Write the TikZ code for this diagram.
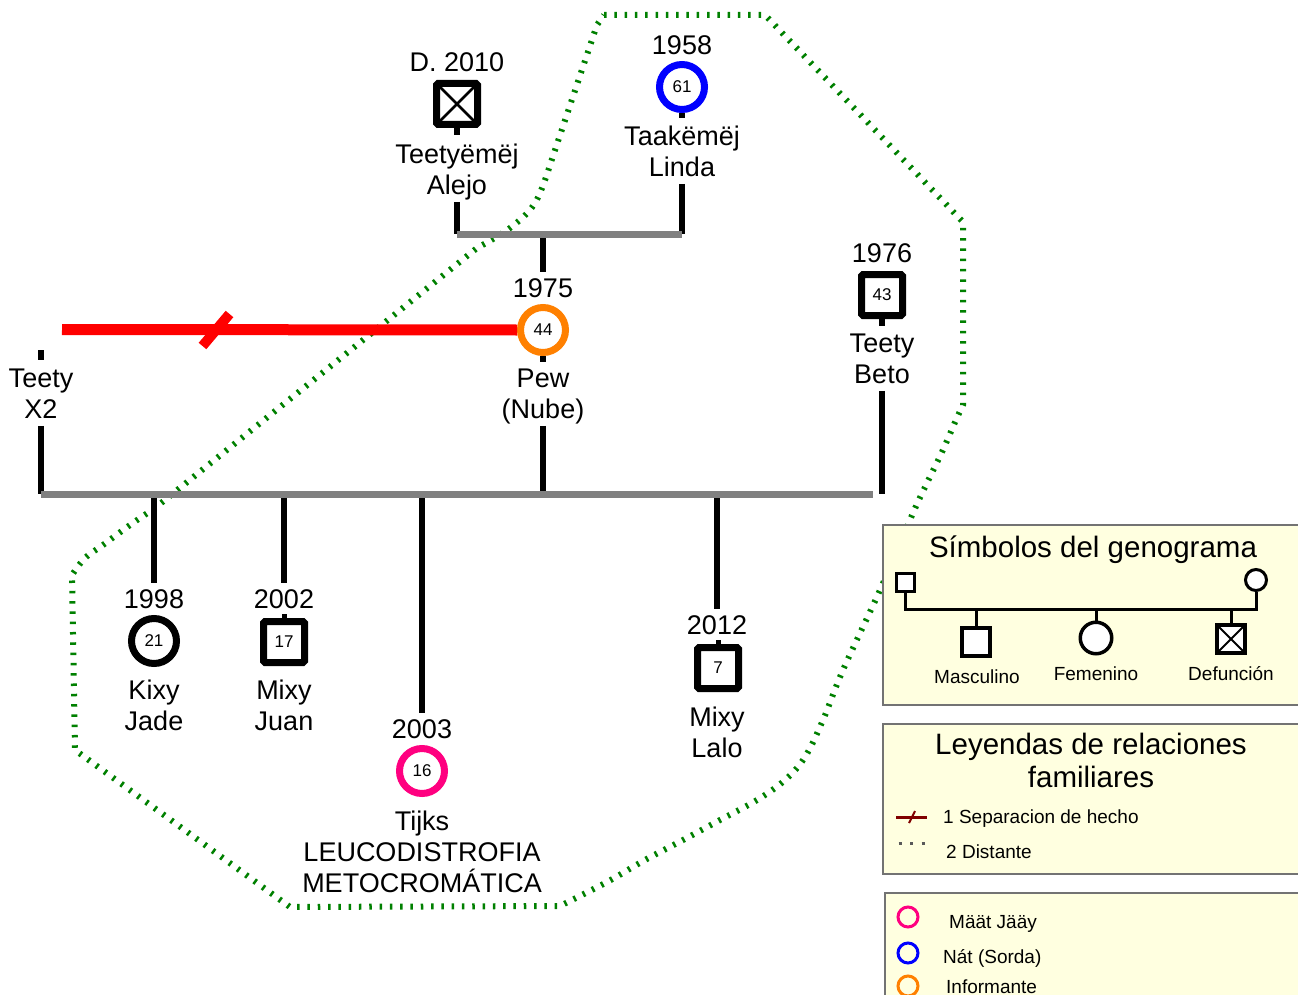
\documentclass[tikz,border=0pt]{standalone}
\usepackage{fontspec}
\setmainfont{Liberation Sans}
\usetikzlibrary{calc}

\definecolor{sepred}{RGB}{255,0,0}
\definecolor{uniongray}{RGB}{128,128,128}
\definecolor{hoodgreen}{RGB}{0,128,0}
\definecolor{deafblue}{RGB}{0,0,255}
\definecolor{infoorange}{RGB}{255,128,0}
\definecolor{illpink}{RGB}{255,0,128}
\definecolor{legfill}{RGB}{255,255,224}
\definecolor{legdark}{RGB}{128,0,0}

% struts that keep every label line the same height and depth
\newcommand{\lst}{\rule[-7pt]{0pt}{22pt}}
\newcommand{\tst}{\rule[-7pt]{0pt}{24pt}}

\begin{document}
\begin{tikzpicture}[x=1pt,y=-1pt,
  male/.style={draw, rectangle, line width=7pt, minimum size=41pt, rounded corners=1.5pt,
    inner sep=0pt, fill=white, font=\fontsize{17}{20}\selectfont},
  female/.style={draw, circle, line width=7pt, minimum size=45pt,
    inner sep=0pt, fill=white, font=\fontsize{17}{20}\selectfont},
  yearlbl/.style={anchor=base, inner sep=6pt, font=\fontsize{27}{31}\selectfont},
  pname/.style={anchor=north, align=center, inner sep=0pt, font=\fontsize{27}{31}\selectfont},
  kin/.style={line width=6.5pt, black},
  union/.style={line width=7pt, uniongray},
  distant/.style={hoodgreen, line width=6pt, dash pattern=on 2.5pt off 7.8pt},
  legbox/.style={draw=black!55, fill=legfill, line width=1.5pt, inner sep=0pt, anchor=north west},
  legtitle/.style={align=center, inner sep=0pt, font=\fontsize{29.5}{33}\selectfont},
  legtext/.style={inner sep=0pt, font=\fontsize{19}{22}\selectfont},
  legline/.style={line width=3pt, black},
  lmale/.style={draw, rectangle, line width=4pt, minimum size=28pt, inner sep=0pt, fill=white},
  lfem/.style={draw, circle, line width=3.5pt, minimum size=31.5pt, inner sep=0pt, fill=white},
  lmalesmall/.style={draw, rectangle, line width=3pt, minimum size=18pt, inner sep=0pt, fill=white},
  lfemsmall/.style={draw, circle, line width=3pt, minimum size=21pt, inner sep=0pt, fill=white},
  lring/.style={draw, circle, line width=3pt, minimum size=20pt, inner sep=0pt}]

\useasboundingbox (0,0) rectangle (1298,995);
\clip (0,0) rectangle (1298,995);

% household boundary
\draw[distant] (604,15) -- (765,15) -- (963,222) -- (963,405)
  -- plot[smooth, tension=0.6] coordinates {(963,405) (956,420) (942,452) (927,483) (913,513)
     (880,590) (843,670) (823,720) (805,757) (785,780) (757,800) (720,820) (683,840)
     (645,860) (607,882) (560,906)}
  -- (290,907) -- (75,750) -- (72,575)
  -- plot[smooth, tension=0.6] coordinates {(72,575) (85,558) (103,545) (130,525) (155,508)}
  -- (477,248)
  -- plot[smooth, tension=0.6] coordinates {(477,248) (510,228) (535,203) (550,165)}
  -- (597,25) -- cycle;

% ---------- grandparents ----------
\node[yearlbl] (alejoyear) at (457,72) {D. 2010};
\node[male] (alejo) at (457,104) {};
\draw[line width=2.5pt] ($(alejo.center)+(-17,-17)$) -- ($(alejo.center)+(17,17)$)
  ($(alejo.center)+(-17,17)$) -- ($(alejo.center)+(17,-17)$);
\node[pname] (alejoname) at (457,144) {Teetyëmëj\lst\\Alejo\lst};

\node[yearlbl] (lindayear) at (682,55) {1958};
\node[female, draw=deafblue] (linda) at (682,87) {61};
\node[pname] (lindaname) at (682,126) {Taakëmëj\lst\\Linda\lst};

\draw[kin] (alejo.south) -- ++(0,7);
\draw[kin] (linda.south) -- ++(0,5);

\coordinate (ua) at (457,234);
\coordinate (ub) at (682,234);
\coordinate (uc) at (543,234);

% ---------- parents ----------
\node[yearlbl] (pewyear) at (543,297) {1975};
\node[female, draw=infoorange] (pew) at (543,330) {44};
\node[pname] (pewname) at (543,369) {Pew\lst\\(Nube)\lst};
\draw[kin] (pew.south) -- ++(0,6);

\coordinate (x2stub) at (41,350);
\draw[kin] (x2stub) -- ++(0,10);
\node[pname] (x2name) at (41,369) {Teety\lst\\X2\lst};

\node[yearlbl] (betoyear) at (882,262) {1976};
\node[male] (beto) at (882,295) {43};
\node[pname] (betoname) at (882,334) {Teety\lst\\Beto\lst};
\draw[kin] (beto.south) -- ++(0,7);

% separation of X2 and Pew
\coordinate (sepend) at (62,329.5);
\coordinate (sepmark) at (216,330);
\draw[sepred, line width=11pt] (sepend) -- (pew.west);
\draw[sepred, line width=10pt] ($(sepmark)+(-13.5,16)$) -- ($(sepmark)+(13.5,-16)$);

% ---------- children ----------
\node[yearlbl] (kixyyear) at (154,608) {1998};
\node[female] (kixy) at (154,641) {21};
\node[pname] (kixyname) at (154,680) {Kixy\lst\\Jade\lst};

\node[yearlbl] (juanyear) at (284,608) {2002};
\node[male] (juan) at (284,642) {17};
\node[pname] (juanname) at (284,680) {Mixy\lst\\Juan\lst};
\draw[line width=5pt] (juan.north) -- ++(0,-4);

\node[yearlbl] (tijksyear) at (422,738) {2003};
\node[female, draw=illpink] (tijks) at (422,771) {16};
\node[pname] (tijksname) at (422,811) {Tijks\lst\\LEUCODISTROFIA\lst\\METOCROMÁTICA\lst};

\node[yearlbl] (laloyear) at (717,634) {2012};
\node[male] (lalo) at (718,668) {7};
\node[pname] (laloname) at (717,707) {Mixy\lst\\Lalo\lst};
\draw[line width=5pt] (lalo.north) -- ++(0,-4);

% ---------- lines of descent ----------
\coordinate (sl) at (41,494);
\coordinate (sr) at (873,494);
\coordinate (sp) at (543,494);
\coordinate (sb) at (882,494);
\coordinate (c1) at (154,494);
\coordinate (c2) at (284,494);
\coordinate (c3) at (422,494);
\coordinate (c4) at (717,494);

\draw[kin] (alejoname.south) -- (ua);
\draw[kin] (lindaname.south) -- (ub);
\draw[kin] (uc) -- (pewyear.north);
\draw[union] (ua) -- (ub);

\draw[kin] (x2name.south) -- (sl);
\draw[kin] (pewname.south) -- (sp);
\draw[kin] (betoname.south) -- (sb);
\draw[kin] (c1) -- (kixyyear.north);
\draw[kin] (c2) -- (juanyear.north);
\draw[kin] (c3) -- (tijksyear.north);
\draw[kin] (c4) -- (laloyear.north);
\draw[union] (sl) -- (sr);

% ---------- legend: symbols ----------
\node[legbox, minimum width=428pt, minimum height=180pt] (symbox) at (882,524) {};
\node[legtitle, anchor=base] (symtitle) at (1093,557) {Símbolos del genograma};
\node[lmalesmall] (lsq) at (905,582) {};
\node[lfemsmall] (lci) at (1256,580) {};
\coordinate (lbar) at (1000,609);
\draw[legline] (lsq.south) |- (lci.south |- lbar) -- (lci.south);
\node[lmale] (lmasc) at (976,642) {};
\node[lfem] (lfemn) at (1096,638) {};
\node[lmale] (ldef) at (1231,639) {};
\draw[line width=1.8pt] ($(ldef.center)+(-12,-12)$) -- ($(ldef.center)+(12,12)$)
  ($(ldef.center)+(-12,12)$) -- ($(ldef.center)+(12,-12)$);
\draw[legline] (lmasc.north |- lbar) -- (lmasc.north);
\draw[legline] (lfemn.north |- lbar) -- (lfemn.north);
\draw[legline] (ldef.north |- lbar) -- (ldef.north);
\node[legtext, anchor=base] (lmasclbl) at (977,683) {Masculino};
\node[legtext, anchor=base] (lfemlbl) at (1096,680) {Femenino};
\node[legtext, anchor=base] (ldeflbl) at (1231,680) {Defunción};

% ---------- legend: relations ----------
\node[legbox, minimum width=428pt, minimum height=150pt] (relbox) at (882,723) {};
\node[legtitle, anchor=north] (reltitle) at (1091,733) {Leyendas de relaciones\tst\\familiares\tst};
\coordinate (sepa) at (896,817);
\coordinate (sepb) at (927,817);
\coordinate (sepmid) at (912,817);
\draw[legdark, line width=3pt] (sepa) -- (sepb);
\draw[legdark, line width=2pt] ($(sepmid)+(-3,6)$) -- ($(sepmid)+(3,-6)$);
\node[legtext, anchor=base west] (seplbl) at (943,823) {1 Separacion de hecho};
\coordinate (dista) at (898.5,843);
\coordinate (distb) at (927,843);
\draw[black!65, line width=3pt, dash pattern=on 3pt off 8.5pt] (dista) -- (distb);
\node[legtext, anchor=base west] (distlbl) at (946,858) {2 Distante};

% ---------- legend: colours ----------
\node[legbox, minimum width=426pt, minimum height=118pt] (colbox) at (884,892) {};
\node[lring, draw=illpink] (kpink) at (908,917) {};
\node[legtext, anchor=base west] (kpinklbl) at (949,928) {Määt Jääy};
\node[lring, draw=deafblue] (kblue) at (908,953) {};
\node[legtext, anchor=base west] (kbluelbl) at (943,963) {Nát (Sorda)};
\node[lring, draw=infoorange] (korange) at (908,986) {};
\node[legtext, anchor=base west] (korangelbl) at (946,993) {Informante};

\end{tikzpicture}
\end{document}
